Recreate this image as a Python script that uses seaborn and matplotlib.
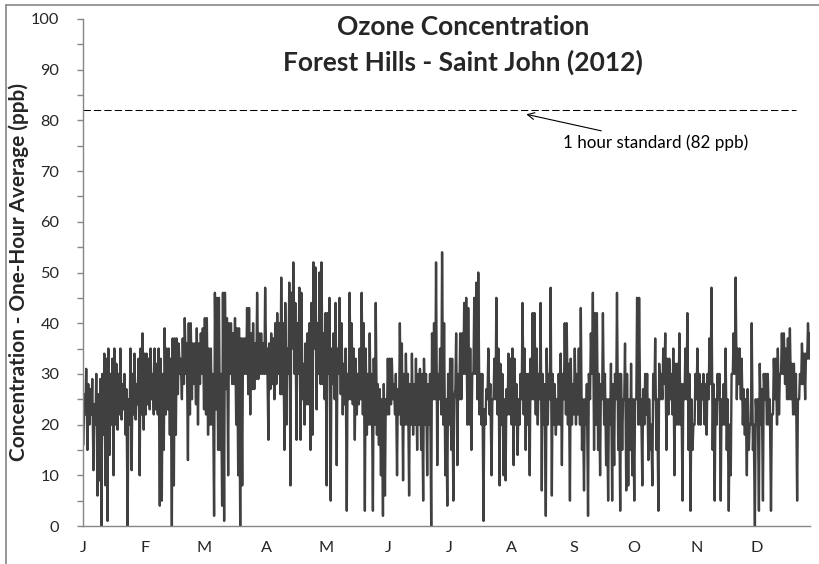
import numpy as np
import pandas as pd
import matplotlib
matplotlib.use('Agg')
import matplotlib.pyplot as plt
import seaborn as sns
from matplotlib.lines import Line2D

# Daily high / low one-hour ozone values (ppb)
high_jan = [26, 31, 28, 27, 29, 24, 30, 26, 29, 30, 34, 33, 35, 30, 33, 35, 32, 30, 35, 28,
            30, 27, 25, 35, 30, 34, 28, 33, 35, 38, 34]
low_jan = [16, 22, 15, 20, 22, 11, 20, 6, 9, 0, 18, 8, 1, 14, 20, 10, 20, 19, 22, 21,
           23, 18, 0, 20, 11, 22, 21, 24, 10, 22, 19]
high_feb = [34, 33, 35, 30, 35, 32, 35, 33, 30, 39, 35, 35, 33, 37, 37, 37, 36, 33, 37, 41,
            36, 40, 40, 36, 36, 39, 36, 38, 39]
low_feb = [22, 24, 23, 25, 22, 23, 22, 4, 5, 15, 22, 23, 18, 0, 8, 18, 26, 30, 25, 28,
           30, 13, 22, 25, 28, 24, 20, 28, 30]
high_mar = [41, 41, 35, 35, 30, 46, 45, 45, 30, 46, 46, 41, 40, 40, 38, 41, 39, 39, 37, 37,
            37, 43, 43, 38, 40, 36, 46, 38, 38, 36, 47]
low_mar = [23, 22, 18, 20, 20, 2, 23, 15, 15, 4, 1, 27, 10, 30, 28, 28, 20, 10, 0, 8,
           30, 30, 26, 22, 27, 27, 29, 29, 30, 30, 30]
high_apr = [35, 36, 38, 37, 40, 42, 40, 49, 40, 44, 35, 48, 46, 52, 44, 40, 47, 46, 32, 36,
            38, 40, 44, 52, 51, 40, 50, 52, 38, 42]
low_apr = [30, 17, 27, 28, 25, 28, 30, 26, 26, 15, 20, 30, 8, 35, 30, 17, 30, 17, 25, 20,
           24, 24, 15, 18, 35, 23, 30, 28, 28, 25]
high_may = [42, 45, 35, 38, 44, 35, 45, 40, 32, 35, 30, 46, 40, 35, 33, 30, 35, 46, 40, 35,
            30, 38, 30, 33, 44, 28, 27, 25, 28, 25, 33]
low_may = [8, 30, 5, 28, 25, 12, 30, 26, 22, 24, 3, 25, 25, 24, 17, 22, 24, 25, 22, 3,
           18, 20, 20, 3, 20, 18, 16, 10, 2, 6, 22]
high_jun = [33, 33, 28, 30, 27, 40, 36, 30, 34, 30, 28, 34, 28, 33, 30, 31, 30, 33, 30, 28,
            30, 38, 40, 52, 30, 35, 54, 40, 25, 30]
low_jun = [22, 24, 25, 22, 10, 22, 20, 9, 20, 20, 6, 20, 18, 20, 15, 20, 15, 5, 20, 10,
           20, 0, 25, 25, 12, 25, 22, 20, 10, 4]
high_jul = [33, 33, 25, 38, 30, 38, 38, 44, 45, 43, 35, 30, 45, 48, 50, 30, 30, 23, 27, 35,
            28, 25, 33, 45, 35, 32, 30, 25, 27, 34, 33]
low_jul = [20, 15, 5, 27, 12, 25, 25, 30, 30, 20, 20, 15, 30, 30, 25, 22, 20, 1, 20, 25,
           22, 10, 25, 25, 22, 8, 20, 10, 9, 22, 22]
high_aug = [35, 33, 28, 25, 30, 44, 35, 30, 30, 33, 42, 42, 35, 30, 44, 30, 28, 35, 30, 47,
            30, 28, 25, 30, 34, 30, 40, 40, 32, 33, 28]
low_aug = [20, 12, 20, 14, 20, 25, 22, 15, 20, 10, 25, 25, 22, 20, 25, 7, 20, 2, 20, 25,
           6, 20, 18, 20, 20, 12, 25, 22, 20, 5, 20]
high_sep = [35, 30, 35, 43, 25, 25, 28, 30, 38, 46, 42, 42, 30, 28, 42, 30, 25, 25, 32, 28,
            30, 46, 30, 30, 25, 36, 30, 25, 32, 25]
low_sep = [22, 20, 22, 20, 15, 7, 20, 2, 25, 30, 15, 20, 15, 10, 25, 20, 12, 5, 20, 5,
           12, 25, 15, 3, 15, 25, 7, 8, 15, 10]
high_oct = [25, 45, 45, 25, 27, 30, 30, 25, 20, 30, 37, 25, 32, 30, 35, 38, 33, 33, 30, 35,
            32, 32, 38, 28, 28, 35, 42, 30, 25, 20, 30]
low_oct = [5, 25, 20, 20, 8, 20, 22, 13, 15, 8, 25, 15, 3, 25, 25, 28, 15, 22, 25, 22,
           10, 20, 20, 20, 5, 25, 25, 15, 3, 15, 20]
high_nov = [35, 30, 28, 30, 28, 30, 37, 47, 28, 25, 30, 30, 25, 28, 35, 25, 20, 30, 38, 49,
            35, 35, 33, 27, 25, 27, 20, 40, 20, 25]
low_nov = [25, 20, 20, 25, 20, 18, 25, 28, 15, 5, 20, 25, 5, 20, 20, 15, 3, 10, 30, 30,
           25, 28, 25, 20, 18, 10, 15, 20, 15, 0]
high_dec = [25, 32, 27, 30, 30, 30, 25, 22, 33, 33, 35, 30, 38, 38, 35, 37, 39, 32, 32, 30,
            25, 30, 36, 34, 34, 40, 38]
low_dec = [20, 3, 20, 5, 25, 20, 20, 3, 22, 25, 20, 22, 30, 30, 28, 25, 25, 25, 22, 22,
           5, 25, 28, 28, 25, 33, 33]

month_labels = ['J', 'F', 'M', 'A', 'M', 'J', 'J', 'A', 'S', 'O', 'N', 'D']
STANDARD_PPB = 82

highs = np.concatenate([high_jan, high_feb, high_mar, high_apr, high_may, high_jun,
                        high_jul, high_aug, high_sep, high_oct, high_nov, high_dec])
lows = np.concatenate([low_jan, low_feb, low_mar, low_apr, low_may, low_jun,
                       low_jul, low_aug, low_sep, low_oct, low_nov, low_dec])
days = np.arange(len(highs))
# night-time low, afternoon high for each day
df = pd.DataFrame({
    'day': np.column_stack([days + 0.2, days + 0.6]).ravel(),
    'ppb': np.column_stack([lows, highs]).ravel(),
})
month_starts = pd.date_range('2012-01-01', periods=12, freq='MS').dayofyear - 1

sns.set_style('white')
plt.rcParams['font.family'] = ['Lato', 'DejaVu Sans']

W, H = 820, 564
fig = plt.figure(figsize=(W / 100, H / 100), dpi=100)
ax = fig.add_axes([83 / W, 38 / H, 727 / W, 507 / H])
sns.lineplot(data=df, x='day', y='ppb', color='#404040', linewidth=1.7,
             estimator=None, ax=ax)

ax.hlines(STANDARD_PPB, 0, 354.5, colors='black', linestyles=(0, (7, 3)), linewidth=0.75)
note = ax.annotate('1 hour standard (82 ppb)', xy=(220.5, STANDARD_PPB - 0.8),
                   xytext=(238.5, 75.6), ha='left', va='center', fontsize=12.5, color='black',
                   arrowprops=dict(arrowstyle='->', color='black', lw=0.8, shrinkA=1, shrinkB=0))

ax.set_xlim(0, days[-1] + 0.6)
ax.set_ylim(0, 100)
ax.set_yticks(np.arange(0, 101, 10))
ax.set_yticks(np.arange(5, 100, 10), minor=True)
ax.set_xticks(month_starts)
ax.set_xticklabels(month_labels)
ax.tick_params(axis='y', which='both', direction='out', length=4, width=1, color='#868686',
               labelsize=13, pad=13, left=True)
ax.tick_params(axis='x', length=0, labelsize=13, pad=11)
ax.set_xlabel('')
ax.set_ylabel('')

sns.despine(ax=ax)
for side in ['left', 'bottom']:
    ax.spines[side].set_color('#868686')
    ax.spines[side].set_linewidth(1)

ylab = fig.text(19 / W, 1 - 272 / H, 'Concentration - One-Hour Average (ppb)', rotation=90,
                ha='center', va='center', fontsize=14, fontweight='bold')
t1 = fig.text(463 / W, 1 - 27 / H, 'Ozone Concentration', ha='center', va='center',
              fontsize=17, fontweight='bold')
t2 = fig.text(463 / W, 1 - 62 / H, 'Forest Hills - Saint John (2012)', ha='center',
              va='center', fontsize=17, fontweight='bold')

# scale font sizes so the texts take the same room as in the original
renderer = fig.canvas.get_renderer()


def fit(text, target_px):
    box = text.get_window_extent(renderer)
    size = text.get_fontsize() * target_px / max(box.width, box.height)
    text.set_fontsize(size)
    return size


fit(ylab, 381)
title_size = fit(t2, 361)
t1.set_fontsize(title_size)
fit(note, 220)
tick_size = fit(ax.get_yticklabels()[-1], 28)
ax.tick_params(axis='both', labelsize=tick_size)

# chart frame (left and top edges visible)
fig.add_artist(Line2D([6 / W, 6 / W], [0, 1 - 5 / H], color='#868686', lw=1.2))
fig.add_artist(Line2D([6 / W, 1], [1 - 5 / H, 1 - 5 / H], color='#868686', lw=1.2))

fig.savefig('out.png', dpi=100)
